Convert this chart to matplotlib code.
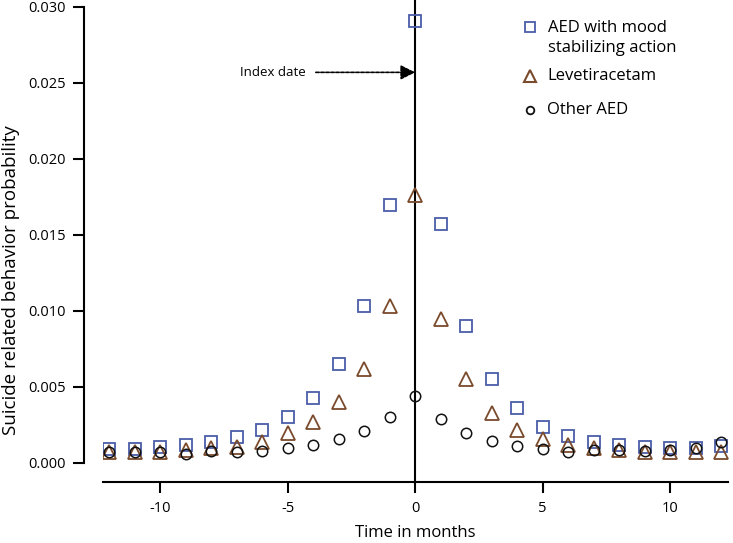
import matplotlib
matplotlib.use("Agg")
from matplotlib import pyplot as plt
import numpy as np

plt.rcParams['font.family'] = ['Open Sans', 'DejaVu Sans']
plt.rcParams['axes.unicode_minus'] = False

months = list(range(-12, 13))

mood_aed = [0.0009, 0.0009, 0.00107, 0.0012, 0.00136, 0.0017, 0.0022, 0.0030,
            0.0043, 0.0065, 0.0103, 0.0170, 0.0291, 0.0157, 0.0090, 0.0055,
            0.0036, 0.0024, 0.0018, 0.0014, 0.0012, 0.00107, 0.00097, 0.00097,
            0.0011]
levetiracetam = [0.0007, 0.0007, 0.00075, 0.00085, 0.00097, 0.00107, 0.0014,
                 0.00195, 0.0027, 0.0040, 0.0062, 0.0103, 0.0176, 0.0095,
                 0.0055, 0.0033, 0.0022, 0.00156, 0.0012, 0.00097, 0.00085,
                 0.0007, 0.0007, 0.0007, 0.00075]
other_aed = [0.0007, 0.0007, 0.0007, 0.0006, 0.0008, 0.0007, 0.0008, 0.00097,
             0.0012, 0.00156, 0.0021, 0.0030, 0.0044, 0.0029, 0.0020, 0.00145,
             0.0011, 0.00092, 0.00075, 0.00085, 0.00085, 0.0008, 0.00085,
             0.001, 0.0014]

y_ticks = [0.0, 0.005, 0.010, 0.015, 0.020, 0.025, 0.030]
x_ticks = [-10, -5, 0, 5, 10]

blue = '#4a5ea8'
brown = '#7a4a2c'
black = '#111111'

fig = plt.figure(figsize=(7.33, 5.43), dpi=100)
ax = fig.add_axes([103 / 733, 80 / 543, 625 / 733, 456 / 543])

ax.axvline(0, ymin=-19 / 456, ymax=1 + 7 / 456, color='black', lw=1.5,
           clip_on=False, zorder=1)

ax.plot(months, mood_aed, linestyle='none', marker='s', markersize=9,
        markerfacecolor='none', markeredgecolor=blue, markeredgewidth=1.3,
        zorder=3)
ax.plot(months, levetiracetam, linestyle='none', marker='^', markersize=10,
        markerfacecolor='none', markeredgecolor=brown, markeredgewidth=1.3,
        zorder=3)
ax.plot(months, other_aed, linestyle='none', marker='o', markersize=7.5,
        markerfacecolor='none', markeredgecolor=black, markeredgewidth=1.1,
        zorder=3)

ax.set_xlim(-12.25, 12.27)
ax.set_ylim(0, 0.030)
ax.set_xticks(x_ticks)
ax.set_yticks(y_ticks)
ax.set_yticklabels([f'{t:.3f}' for t in y_ticks])

for side in ['top', 'right']:
    ax.spines[side].set_visible(False)
ax.spines['left'].set_position(('outward', 14))
ax.spines['bottom'].set_position(('outward', 14))
ax.spines['left'].set_linewidth(1.5)
ax.spines['bottom'].set_linewidth(1.5)
ax.tick_params(width=1.5, length=8, labelsize=10.5, direction='out', pad=5)

ax.set_xlabel('Time in months', fontsize=12, labelpad=7)
ax.set_ylabel('Suicide related behavior probability', fontsize=13.5)
ax.yaxis.set_label_coords(-0.133, 0.40)

# index date arrow
ax.annotate('', xy=(0, 0.0257), xytext=(-3.9, 0.0257),
            arrowprops=dict(arrowstyle='-|>', linestyle=(0, (2, 1)), lw=1.2,
                            color='black', mutation_scale=22,
                            shrinkA=0, shrinkB=0))
ax.text(-4.3, 0.0257, 'Index date', ha='right', va='center', fontsize=9.5)

# legend, drawn by hand so the square sits on the first label line
tr = ax.transAxes
ax.plot([0.683], [0.956], transform=tr, marker='s', markersize=7,
        markerfacecolor='none', markeredgecolor=blue, markeredgewidth=1.3,
        clip_on=False)
ax.text(0.7125, 0.932, 'AED with mood\nstabilizing action', transform=tr,
        ha='left', va='center', fontsize=12, linespacing=1.35)
ax.plot([0.683], [0.849], transform=tr, marker='^', markersize=8.5,
        markerfacecolor='none', markeredgecolor=brown, markeredgewidth=1.5,
        clip_on=False)
ax.text(0.7104, 0.849, 'Levetiracetam', transform=tr, ha='left',
        va='center', fontsize=12)
ax.plot([0.683], [0.775], transform=tr, marker='o', markersize=5.5,
        markerfacecolor='none', markeredgecolor=black, markeredgewidth=1.3,
        clip_on=False)
ax.text(0.7104, 0.775, 'Other AED', transform=tr, ha='left',
        va='center', fontsize=12)

fig.savefig('out.png', dpi=100)
